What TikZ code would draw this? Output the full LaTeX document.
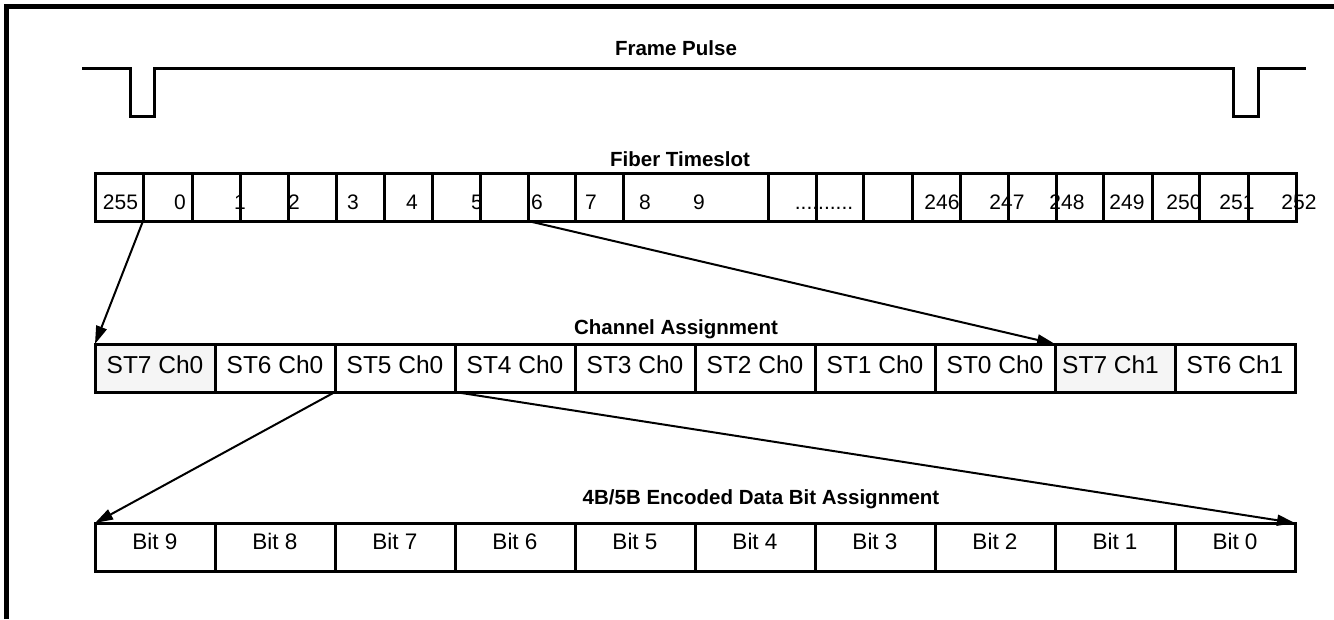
\documentclass[tikz,border=0pt]{standalone}
\usepackage{fontspec}
\setmainfont{Liberation Sans}
\usetikzlibrary{arrows.meta}
\begin{document}
\begin{tikzpicture}[x=1pt,y=-1pt,
  cell/.style={draw, line width=3pt, minimum height=48pt, inner sep=0pt, outer sep=0pt},
  shaded/.style={fill=black!4},
  num/.style={font=\fontsize{21}{24}\selectfont, anchor=base, inner sep=0pt},
  chtext/.style={font=\fontsize{24.5}{28}\selectfont, anchor=base, inner sep=0pt},
  bittext/.style={font=\fontsize{22.5}{26}\selectfont, anchor=base, inner sep=0pt},
  title/.style={font=\fontsize{20.5}{24}\selectfont\bfseries, anchor=base, inner sep=0pt},
  link/.style={line width=2pt, -{Triangle[length=18pt,width=11pt]}},
  pulse/.style={line width=3pt},
  frame/.style={line width=5pt}
  ]
\useasboundingbox (0,0) rectangle (1334,619);
\draw[frame] (6.5,619) -- (6.5,6.5) -- (1334,6.5);

% frame pulse
\draw[pulse] (82,68) -- (130,68) -- (130,116) -- (154,116) -- (154,68)
  -- (1233,68) -- (1233,116) -- (1258,116) -- (1258,68) -- (1306,68);
\node[title] (tfp) at (676,55) {Frame Pulse};

% fiber timeslot row
\node[title] (tft) at (680,166) {Fiber Timeslot};
\foreach \a/\b [count=\i] in {95/143,143/192,192/240,240/288,288/336,336/384,384/432,432/480,480/528,528/575,575/623,623/768,768/816,816/863,863/912,912/960,960/1008,1008/1056,1056/1103,1103/1152,1152/1199,1199/1248,1248/1296}
  \node[cell, minimum width={(\b-\a)*1pt}] (f\i) at ({(\a+\b)/2},197) {};
\foreach \x/\t [count=\i] in {120.5/255,180/0,240/1,294/2,353/3,412/4,477/5,537/6,591/7,645/8,699/9,824/{..........},942/246,1007/247,1067/248,1127/249,1184/250,1237/251,1299/252}
  \node[num] (n\i) at (\x,209) {\t};

% channel assignment row
\node[title] (tca) at (676,334) {Channel Assignment};
\foreach \i in {1,...,10}
  \node[cell, minimum width=120pt] (c\i) at ({95+120*(\i-1)+60},368) {};
\node[cell, shaded, minimum width=120pt] (c1) at (155,368) {};
\node[cell, shaded, minimum width=120pt] (c9) at (1115,368) {};
\foreach \t [count=\i] in {ST7 Ch0,ST6 Ch0,ST5 Ch0,ST4 Ch0,ST3 Ch0,ST2 Ch0,ST1 Ch0,ST0 Ch0}
  \node[chtext] (ct\i) at ({95+120*(\i-1)+60},373) {\t};
\node[chtext, anchor=base west] (ct9) at (1062,373) {ST7 Ch1};
\node[chtext] (ct10) at (1235,373) {ST6 Ch1};

% bit assignment row
\node[title] (tbits) at (761,504) {4B/5B Encoded Data Bit Assignment};
\foreach \t [count=\i] in {9,8,7,6,5,4,3,2,1,0}{
  \node[cell, minimum width=120pt] (b\i) at ({95+120*(\i-1)+60},547) {};
  \node[bittext] (bt\i) at ({95+120*(\i-1)+60},549) {Bit \t};
}

% connectors
\draw[link] (f1.south east) -- (c1.north west);
\draw[link] (f10.south west) -- (c9.north west);
\draw[link] (c2.south east) -- (b1.north west);
\draw[link] (c3.south east) -- (b10.north east);
\end{tikzpicture}
\end{document}
